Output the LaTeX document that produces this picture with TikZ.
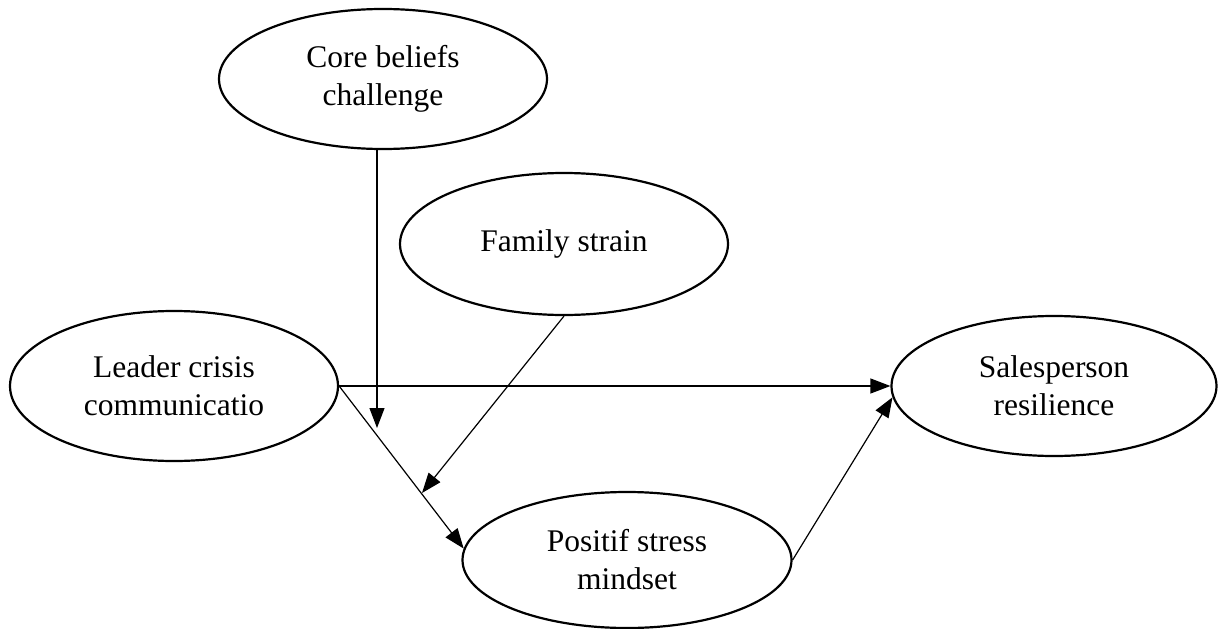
\documentclass[tikz,border=0pt]{standalone}
\usepackage{fontspec}
\setmainfont{Liberation Serif}
\usepackage{tikz}
\usetikzlibrary{shapes.geometric,arrows.meta}

\begin{document}
\begin{tikzpicture}[x=1pt,y=1pt,yscale=-1,xscale=1,
  construct/.style={draw, ellipse, line width=2.2pt, inner sep=0pt, align=center,
    font=\fontsize{31.5}{38}\selectfont},
  path/.style={line width=1.2pt, -{Triangle[length=20pt,width=15pt]}}]
\useasboundingbox (0,0) rectangle (1219,629);

%Shape: Ellipse [core beliefs]
\node [construct, minimum width=328, minimum height=140] (core) at (383,79) {Core beliefs\\challenge};
%Shape: Ellipse [family strain]
\node [construct, minimum width=328, minimum height=142] (family) at (564,244) {Family strain};
%Shape: Ellipse [leader]
\node [construct, minimum width=328, minimum height=150] (leader) at (174,386) {Leader crisis\\communicatio};
%Shape: Ellipse [salesperson]
\node [construct, minimum width=325, minimum height=140] (sales) at (1054,386) {Salesperson\\resilience};
%Shape: Ellipse [positif]
\node [construct, minimum width=329, minimum height=136] (positif) at (627,560) {Positif stress\\mindset};

% moderator ends
\coordinate (modcore) at (377,428);
\coordinate (modfam) at (422,493);

% Paths
\draw [path] (leader.east) -- (sales.west);
\draw [path] (leader.east) -- (positif.176);
\draw [path] (positif.east) -- (sales.184);
\draw [path] (core.south -| modcore) -- (modcore);
\draw [path] (family.south) -- (modfam);

\end{tikzpicture}
\end{document}
